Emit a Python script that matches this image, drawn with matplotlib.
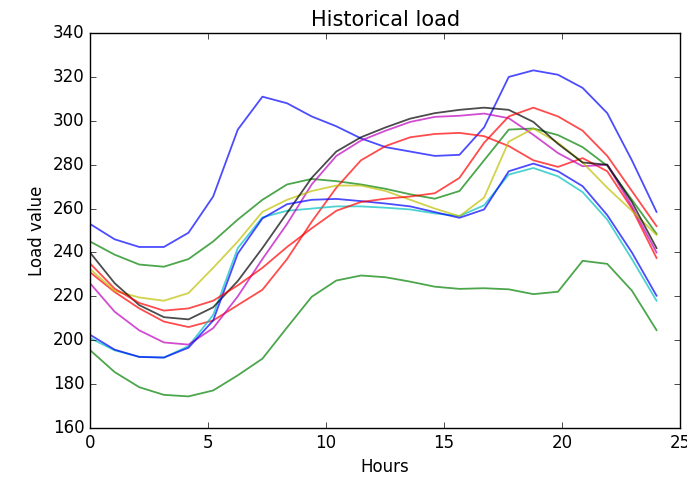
import numpy as np
import matplotlib
matplotlib.use("Agg")
import matplotlib.pyplot as plt

# 24 samples spread over 0..24 hours
hours = np.linspace(0, 24, 24)

blue_1 = [253, 246, 242.5, 242.5, 249, 265.5, 296, 311, 308, 302, 297.5, 292,
          288, 286, 284, 284.5, 297, 320, 323, 321, 315, 303.5, 282, 258.5]
green_1 = [245, 239, 234.5, 233.5, 237, 245, 255, 264, 271, 273.5, 272.5, 271,
           269, 266.5, 264.5, 268, 282, 296, 296.5, 293.5, 288, 279.5, 264, 248.5]
red_1 = [231, 222, 214.5, 208.5, 206, 209, 216, 223, 237, 254, 269.5, 282,
         288.5, 292.5, 294, 294.5, 293, 288.5, 282, 279, 283, 277, 260, 237.5]
cyan = [201, 195.4, 192.4, 192.1, 197.3, 211.5, 242, 256, 259, 260, 261, 261,
        260.4, 259.6, 257.8, 256.6, 261.5, 275.5, 278.5, 274.7, 267.5, 255, 237, 218]
magenta = [226, 213, 204.5, 199, 198, 205.5, 220, 237, 253, 271, 284, 291,
           295.5, 299.5, 301.8, 302.3, 303.3, 301.2, 293.6, 285.3, 279.3, 280, 261, 240]
yellow = [232.5, 222.5, 219.5, 218, 221.5, 233, 245, 258.5, 264, 268, 270.5, 270.5,
          268, 264, 260, 256.5, 265, 290.5, 296.5, 290, 281, 269.5, 259, 248]
black = [240, 226, 216, 210.5, 209.5, 215, 227, 242, 258, 274, 286, 292.5,
         297, 301, 303.5, 305, 306, 305, 299.5, 289.5, 281, 280, 263, 242]
blue_2 = [202.5, 195.7, 192.4, 192.1, 196.6, 209, 239.5, 255.5, 262, 264, 264.4, 263.4,
          262.3, 261, 258.4, 255.8, 259.6, 277, 280.5, 277, 270.2, 257, 240, 220.3]
green_2 = [195.5, 185.5, 178.6, 175.1, 174.4, 177.1, 184, 191.6, 205.8, 219.8, 227.2, 229.5,
           228.7, 226.7, 224.4, 223.4, 223.7, 223.2, 221, 222.1, 236.2, 234.8, 222.6, 204.6]
red_2 = [235, 223.5, 217, 213.5, 214.5, 218, 225, 233, 242.5, 251, 259, 263,
         264.5, 265.5, 267, 274, 290, 302, 306, 302, 295.5, 284, 268, 252]

series = [blue_1, green_1, red_1, cyan, magenta, yellow, black, blue_2, green_2, red_2]
colors = ['b', 'g', 'r', 'c', 'm', 'y', 'k', 'b', 'g', 'r']

plt.style.use('classic')
fig = plt.figure(figsize=(6.87, 4.79), dpi=100, facecolor='white')
ax = fig.add_axes([0.131, 0.1065, 0.859, 0.8245])

for s, c in zip(series, colors):
    ax.plot(hours, s, color=c, alpha=0.7, linewidth=1.3)

ax.set_xlim(0, 25)
ax.set_ylim(160, 340)
ax.set_xticks(np.arange(0, 26, 5))
ax.set_yticks(np.arange(160, 341, 20))
ax.set_title('Historical load', fontsize=15)
ax.set_xlabel('Hours')
ax.set_ylabel('Load value')

fig.savefig('out.png', dpi=100, facecolor='white')
